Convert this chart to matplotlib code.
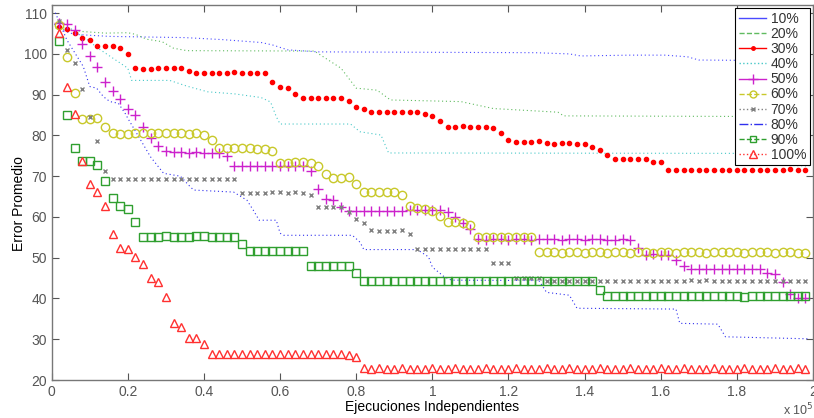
import numpy as np
import matplotlib
matplotlib.use('Agg')
import matplotlib.pyplot as plt
from matplotlib.lines import Line2D

plt.rcParams['font.family'] = ['Liberation Sans', 'DejaVu Sans']
plt.rcParams['font.size'] = 10

# ---- data (x in units of 1e5 evaluations) ----
labels = ['10%', '20%', '30%', '40%', '50%', '60%', '70%', '80%', '90%', '100%']

# step-like curves (vertices)
x10 = [0.0, 0.02, 0.06, 0.15, 0.35, 0.45, 0.55, 0.58, 0.62, 0.70, 1.27, 1.36, 1.39, 1.52, 1.61, 1.67, 1.70, 1.99]
y10 = [108.0, 106.0, 104.8, 104.3, 104.0, 103.5, 102.8, 102.2, 101.0, 100.5, 100.3, 100.0, 99.5, 99.7, 99.7, 99.3, 98.5, 98.3]

x20 = [0.0, 0.04, 0.08, 0.14, 0.20, 0.22, 0.25, 0.29, 0.32, 0.355, 0.69, 0.72, 0.76, 0.80, 0.855, 0.89, 1.075, 1.16, 1.33, 1.345, 1.99]
y20 = [106.5, 105.9, 105.5, 105.1, 105.2, 104.8, 103.6, 103.0, 101.4, 100.8, 100.7, 98.9, 96.5, 91.6, 91.1, 88.7, 88.3, 86.6, 85.7, 84.8, 84.6]

x40 = [0.0, 0.05, 0.08, 0.12, 0.16, 0.20, 0.21, 0.31, 0.355, 0.41, 0.48, 0.55, 0.575, 0.59, 0.60, 0.785, 0.81, 0.865, 0.885, 1.80, 1.91, 1.99]
y40 = [106.8, 106.2, 104.5, 101.5, 99.0, 96.5, 93.5, 93.5, 92.1, 90.7, 90.2, 89.3, 88.2, 84.6, 82.8, 82.8, 80.9, 80.1, 75.7, 75.6, 72.7, 72.5]

x80 = [0.0, 0.01, 0.04, 0.083, 0.10, 0.118, 0.136, 0.153, 0.175, 0.193, 0.20, 0.26, 0.294, 0.338, 0.364, 0.373,
       0.478, 0.513, 0.53, 0.545, 0.59, 0.60, 0.61, 0.79, 0.81, 0.82, 0.96, 0.99, 1.00, 1.03, 1.05, 1.28, 1.30,
       1.36, 1.38, 1.64, 1.65, 1.75, 1.77, 1.99]
y80 = [110.5, 110.0, 103.4, 96.9, 92.0, 91.6, 89.5, 88.3, 87.9, 85.4, 84.2, 74.7, 70.7, 70.0, 67.4, 66.6,
       66.1, 64.1, 61.6, 59.2, 59.2, 56.0, 55.5, 55.5, 53.8, 52.0, 52.0, 50.2, 47.7, 45.4, 44.5, 44.4, 41.5,
       40.8, 37.6, 37.4, 33.9, 33.7, 30.6, 30.1]

# marker series, one value every 0.02e5 evaluations (0.02 ... 1.98)
err30 = [106.7, 106.1, 105.1, 104.0, 103.3, 102.0, 102.0, 102.0, 101.5, 100.0,
         96.5, 96.4, 96.4, 96.5, 96.6, 96.5, 96.6, 95.9, 95.4, 95.4,
         95.4, 95.4, 95.4, 95.5, 95.4, 95.4, 95.4, 95.2, 93.2, 92.0,
         91.6, 90.2, 89.2, 89.2, 89.2, 89.3, 89.2, 89.3, 88.5, 87.0,
         86.5, 85.7, 85.7, 85.7, 85.7, 85.8, 85.7, 85.7, 85.2, 84.8,
         83.5, 82.1, 82.1, 82.2, 82.1, 82.1, 82.1, 81.9, 80.7, 79.0,
         78.5, 78.4, 78.4, 78.7, 78.2, 77.9, 78.2, 78.2, 77.9, 77.9,
         77.2, 76.4, 75.2, 74.2, 74.2, 74.3, 74.3, 74.2, 73.4, 73.4,
         71.5, 71.5, 71.5, 71.6, 71.5, 71.5, 71.5, 71.6, 71.5, 71.5,
         71.6, 71.5, 71.5, 71.4, 71.6, 71.5, 71.7, 71.6, 71.4]

err50 = [107.5, 107.4, 105.8, 102.4, 99.6, 96.9, 93.2, 91.0, 88.9, 86.5,
         85.0, 82.0, 79.4, 77.4, 76.1, 75.9, 75.9, 75.8, 75.9, 75.8,
         75.8, 75.8, 74.9, 72.4, 72.5, 72.4, 72.5, 72.4, 72.4, 72.5,
         72.4, 72.4, 72.5, 71.3, 66.8, 64.3, 64.1, 62.5, 61.4, 61.4,
         61.4, 61.4, 61.4, 61.4, 61.4, 61.4, 61.6, 61.6, 61.6, 61.6,
         61.6, 61.1, 60.0, 58.6, 57.1, 54.5, 54.4, 54.5, 54.5, 54.4,
         54.5, 54.5, 54.4, 54.5, 54.6, 54.5, 54.4, 54.5, 54.5, 54.4,
         54.5, 54.5, 54.3, 54.4, 54.5, 54.3, 52.5, 50.7, 50.8, 50.7,
         50.6, 49.4, 47.9, 47.2, 47.2, 47.2, 47.3, 47.2, 47.2, 47.3,
         47.2, 47.2, 47.2, 46.3, 45.9, 44.0, 41.2, 40.2, 40.0]

err60 = [107.1, 99.2, 90.3, 84.0, 84.0, 84.2, 82.0, 80.7, 80.4, 80.4,
         80.5, 80.7, 80.7, 80.6, 80.5, 80.5, 80.5, 80.4, 80.7, 80.1,
         79.0, 77.0, 76.8, 76.8, 76.8, 76.8, 76.7, 76.6, 76.2, 73.2,
         73.2, 73.4, 73.4, 73.2, 72.6, 70.5, 69.6, 69.5, 69.7, 68.0,
         66.0, 66.0, 66.0, 66.0, 66.0, 65.5, 62.7, 62.3, 62.0, 61.4,
         60.2, 58.8, 58.8, 58.6, 58.1, 55.1, 55.1, 55.1, 55.1, 55.1,
         55.1, 55.1, 55.1, 51.4, 51.3, 51.3, 51.2, 51.3, 51.3, 51.2,
         51.3, 51.3, 51.2, 51.3, 51.3, 51.2, 51.3, 51.3, 51.2, 51.3,
         51.3, 51.2, 51.3, 51.5, 51.3, 51.2, 51.3, 51.3, 51.5, 51.3,
         51.2, 51.3, 51.4, 51.3, 51.2, 51.3, 51.3, 51.2, 51.1]

err70 = [108.1, 101.0, 97.7, 91.3, 84.6, 78.7, 71.3, 69.3, 69.3, 69.3,
         69.3, 69.3, 69.3, 69.3, 69.4, 69.3, 69.3, 69.3, 69.3, 69.3,
         69.3, 69.3, 69.3, 69.2, 65.9, 65.9, 65.9, 65.9, 66.0, 66.0,
         65.9, 66.0, 65.9, 65.5, 62.4, 62.4, 62.4, 62.4, 61.3, 59.6,
         58.6, 56.9, 56.5, 56.5, 56.5, 56.9, 55.7, 52.1, 52.1, 52.2,
         52.1, 52.1, 52.2, 52.1, 52.1, 52.2, 52.1, 48.6, 48.6, 48.6,
         45.1, 45.1, 45.1, 45.1, 44.3, 44.3, 44.3, 44.3, 44.3, 44.3,
         44.3, 44.3, 44.3, 44.3, 44.3, 44.3, 44.3, 44.3, 44.3, 44.3,
         44.3, 44.3, 44.3, 44.6, 44.3, 44.6, 44.3, 44.3, 44.3, 44.3,
         44.3, 44.3, 44.3, 44.3, 44.3, 44.3, 44.3, 44.3, 44.3]

err90 = [103.2, 85.0, 77.0, 73.8, 73.7, 72.7, 68.8, 64.7, 62.7, 62.0,
         58.8, 55.2, 55.2, 55.2, 55.4, 55.2, 55.2, 55.2, 55.3, 55.3,
         55.2, 55.2, 55.0, 55.0, 53.3, 51.6, 51.7, 51.6, 51.7, 51.6,
         51.7, 51.6, 51.6, 48.0, 48.0, 48.0, 48.0, 48.0, 48.0, 46.2,
         44.3, 44.4, 44.2, 44.3, 44.4, 44.3, 44.3, 44.2, 44.4, 44.3,
         44.3, 44.2, 44.4, 44.3, 44.3, 44.4, 44.2, 44.3, 44.3, 44.4,
         44.3, 44.2, 44.3, 44.4, 44.3, 44.3, 44.2, 44.3, 44.4, 44.3,
         44.3, 42.0, 40.6, 40.6, 40.5, 40.6, 40.6, 40.5, 40.6, 40.6,
         40.5, 40.6, 40.6, 40.5, 40.6, 40.6, 40.5, 40.6, 40.6, 40.5,
         40.3, 40.6, 40.6, 40.5, 40.6, 40.6, 40.6, 40.6, 40.6]

err100 = [105.2, 92.0, 85.2, 73.7, 68.0, 66.0, 62.7, 55.9, 52.3, 52.1,
          50.2, 48.5, 45.0, 44.1, 40.3, 33.9, 33.1, 30.3, 30.2, 28.9,
          26.3, 26.5, 26.5, 26.5, 26.3, 26.4, 26.5, 26.3, 26.5, 26.4,
          26.5, 26.3, 26.4, 26.5, 26.5, 26.3, 26.5, 26.4, 26.2, 25.6,
          22.9, 22.8, 22.9, 22.7, 22.8, 22.9, 22.8, 22.8, 22.7, 22.9,
          22.8, 22.8, 22.9, 22.7, 22.8, 22.8, 22.9, 22.8, 22.7, 22.8,
          22.9, 22.8, 22.8, 22.7, 22.9, 22.8, 22.8, 22.9, 22.7, 22.8,
          22.8, 22.9, 22.8, 22.7, 22.8, 22.9, 22.8, 22.8, 22.7, 22.9,
          22.8, 22.8, 22.9, 22.7, 22.8, 22.8, 22.9, 22.8, 22.7, 22.8,
          22.9, 22.8, 22.8, 22.7, 22.9, 22.8, 22.8, 22.9, 22.8]

xticks = [0, 0.2, 0.4, 0.6, 0.8, 1.0, 1.2, 1.4, 1.6, 1.8, 2.0]
xtick_labels = ['0', '0.2', '0.4', '0.6', '0.8', '1', '1.2', '1.4', '1.6', '1.8', '2']
yticks = [20, 30, 40, 50, 60, 70, 80, 90, 100, 110]


def xs(vals):
    return np.arange(1, len(vals) + 1) * 0.02


fig = plt.figure(figsize=(8.14, 4.18), dpi=100)
ax = fig.add_axes([51.7 / 814, 1 - 380 / 418, (813 - 51.7) / 814, 375 / 418])

c10, c20, c30, c40, c50 = '#4a4aff', '#60bb60', '#ff0000', '#48c8c8', '#cc22cc'
c60, c70, c80, c90, c100 = '#c8c82a', '#808080', '#3030ee', '#2f9f2f', '#ff3030'

dots = (0, (1, 2.5))
ax.plot(x10, y10, color=c10, lw=0.8, ls=dots)
ax.plot(x20, y20, color=c20, lw=0.8, ls=dots)
ax.plot(x40, y40, color=c40, lw=0.8, ls=dots)
ax.plot(x80, y80, color=c80, lw=0.8, ls=dots)

ax.plot(xs(err30), err30, ls='none', marker='.', ms=6, color=c30)
ax.plot(xs(err50), err50, ls='none', marker='+', ms=7, mew=1.0, color=c50)
ax.plot(xs(err60), err60, ls='none', marker='o', ms=6, mfc='none', mew=1.0, color=c60)
ax.plot(xs(err70), err70, ls='none', marker='x', ms=3.5, mew=1.0, color=c70)
ax.plot(xs(err90), err90, ls='none', marker='s', ms=5.5, mfc='none', mew=1.0, color=c90)
ax.plot(xs(err100), err100, ls='none', marker='^', ms=6, mfc='none', mew=1.0, color=c100)

ax.set_xlim(0, 2)
ax.set_ylim(20, 112)
ax.set_xticks(xticks)
ax.set_xticklabels(xtick_labels)
ax.set_yticks(yticks)
ax.tick_params(direction='in', top=True, right=True, length=5, width=0.8,
               color='#555555', labelcolor='#555555', labelsize=10)
for s in ax.spines.values():
    s.set_color('#777777')
    s.set_linewidth(1.0)

ax.set_xlabel('Ejecuciones Independientes', fontsize=10, labelpad=1)
ax.set_ylabel('Error Promedio', fontsize=10)
ax.yaxis.set_label_coords(-0.034, 0.47)
fig.text(0.999, 0.0, r'x 10$^5$', ha='right', va='bottom', fontsize=9, color='#555555')

handles = [
    Line2D([], [], color=c10, ls='-', lw=1),
    Line2D([], [], color=c20, ls='--', lw=1),
    Line2D([], [], color=c30, ls='-', lw=1, marker='.', ms=5),
    Line2D([], [], color=c40, ls=':', lw=1),
    Line2D([], [], color=c50, ls='-', lw=1, marker='+', ms=7),
    Line2D([], [], color=c60, ls='--', lw=1, marker='o', ms=5, mfc='none'),
    Line2D([], [], color=c70, ls=':', lw=1, marker='x', ms=3.5),
    Line2D([], [], color=c80, ls='-.', lw=1),
    Line2D([], [], color=c90, ls='--', lw=1, marker='s', ms=5, mfc='none'),
    Line2D([], [], color=c100, ls=':', lw=1, marker='^', ms=6, mfc='none'),
]
leg = ax.legend(handles, labels, loc='upper right', fontsize=10, fancybox=False,
                edgecolor='black', framealpha=1, borderpad=0.25, labelspacing=0.08,
                handlelength=2.0, handletextpad=0.3, borderaxespad=0.25)
leg.get_frame().set_linewidth(0.8)
for t in leg.get_texts():
    t.set_color('#333333')

fig.savefig('out.png', dpi=100)
